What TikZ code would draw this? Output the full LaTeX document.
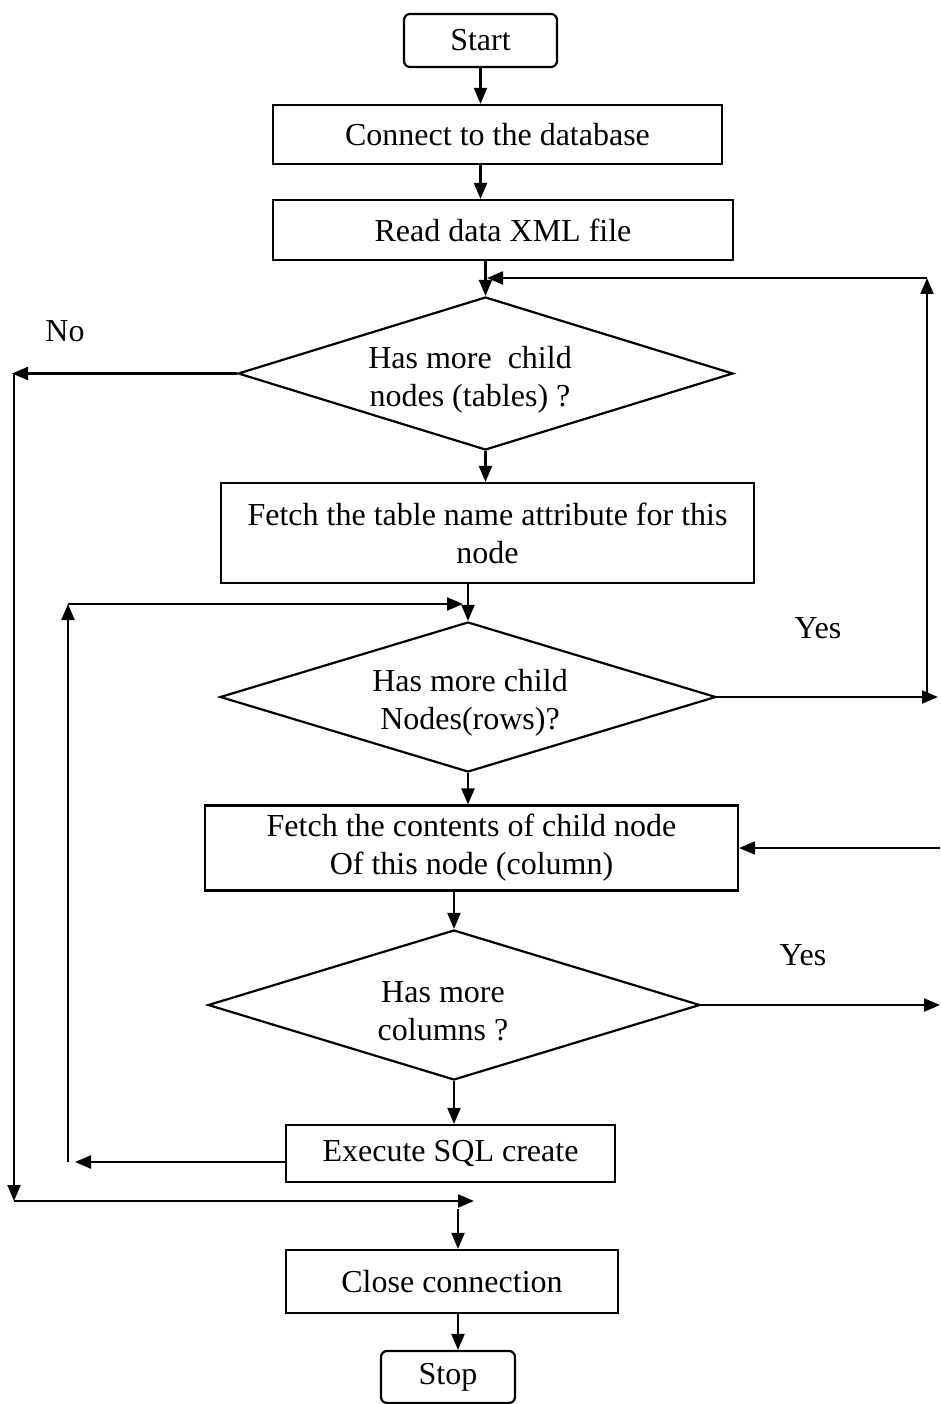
\documentclass[tikz,border=0pt]{standalone}
\usepackage{fontspec}
\setmainfont{Liberation Serif}
\usetikzlibrary{shapes.geometric,arrows.meta}
\begin{document}
\begin{tikzpicture}[x=1pt,y=-1pt,line width=2.2pt,
  font=\fontsize{32}{38}\selectfont,
  arr/.style={-{Triangle[length=16pt,width=13pt]}},
  box/.style={draw,rectangle,inner sep=0pt,align=center},
  term/.style={draw,rectangle,rounded corners=6pt,inner sep=0pt},
  dec/.style={draw,diamond,inner sep=0pt,aspect=3},
  dtext/.style={inner sep=0pt,align=center},
  lbl/.style={inner sep=0pt}]
\useasboundingbox (0,0) rectangle (940,1404);
\node[term,minimum width=153pt,minimum height=53pt] (start) at (480.5,40.5) {Start};
\node[box,minimum width=449pt,minimum height=59pt] (conn) at (497.5,134.5) {Connect to the database};
\node[box,minimum width=460pt,minimum height=60pt] (read) at (503,230) {Read data XML file};
\node[dec,minimum width=495pt,minimum height=153pt] (d1) at (485.5,373.5) {};
\node[dtext] (d1t) at (470,380) {Has more\ \ child\\nodes (tables) ?};
\node[box,minimum width=533pt,minimum height=100pt] (ft) at (487.5,533) {Fetch the table name attribute for this\\node};
\node[dec,minimum width=496pt,minimum height=150pt] (d2) at (468,697) {};
\node[dtext] (d2t) at (470,703) {Has more child\\Nodes(rows)?};
\node[box,minimum width=533pt,minimum height=85pt] (fc) at (471.5,848) {Fetch the contents of child node\\Of this node (column)};
\node[dec,minimum width=492pt,minimum height=150pt] (d3) at (454,1005) {};
\node[dtext] (d3t) at (443,1011) {Has more\\columns ?};
\node[box,minimum width=329pt,minimum height=57pt] (ex) at (450.5,1153.5) {Execute SQL create};
\node[box,minimum width=332pt,minimum height=63pt] (close) at (452,1281.5) {Close connection};
\node[term,minimum width=134pt,minimum height=52pt] (stop) at (448,1377) {Stop};
\node[lbl] (no) at (65,331) {No};
\node[lbl] (yes1) at (818,628) {Yes};
\node[lbl] (yes2) at (803,955) {Yes};
% coordinates
\coordinate (t1) at (487,278);
\coordinate (rt) at (927,278);
\coordinate (rb) at (927,697);
\coordinate (ra) at (938,697);
\coordinate (nl) at (12,373.5);
\coordinate (nb) at (14,1201);
\coordinate (nv) at (14,373.5);
\coordinate (m1) at (474,1201);
\coordinate (m2) at (458,1209);
\coordinate (lb) at (68,1162);
\coordinate (lt) at (68,604);
\coordinate (t2) at (463,604);
\coordinate (c3) at (940,1005);
\coordinate (c4) at (940,848);
% main flow
\draw[arr] (start.south) -- (start.south |- conn.north);
\draw[arr] (start.south |- conn.south) -- (start.south |- read.north);
\draw[arr] (d1.north |- read.south) -- (d1.north);
\draw[arr] (d1.south) -- (d1.south |- ft.north);
\draw[arr] (d2.north |- ft.south) -- (d2.north);
\draw[arr] (d2.south) -- (d2.south |- fc.north);
\draw[arr] (d3.north |- fc.south) -- (d3.north);
\draw[arr] (d3.south) -- (d3.south |- ex.north);
\draw[arr] (m2) -- (m2 |- close.north);
\draw[arr] (m2 |- close.south) -- (m2 |- stop.north);
% loop: tables
\draw[arr] (d2.east) -- (ra);
\draw[arr] (rb) -- (rt);
\draw[arr] (rt) -- (t1);
% no branch
\draw[arr] (d1.west) -- (nl);
\draw[arr] (nv) -- (nb);
\draw[arr] (nb) -- (m1);
% loop: rows
\draw[arr] (ex.west |- lb) -- (lb -| 75,0);
\draw[arr] (lb) -- (lt);
\draw[arr] (lt) -- (t2);
% loop: columns
\draw[arr] (d3.east) -- (c3);
\draw[arr] (c4) -- (fc.east);
\end{tikzpicture}
\end{document}
